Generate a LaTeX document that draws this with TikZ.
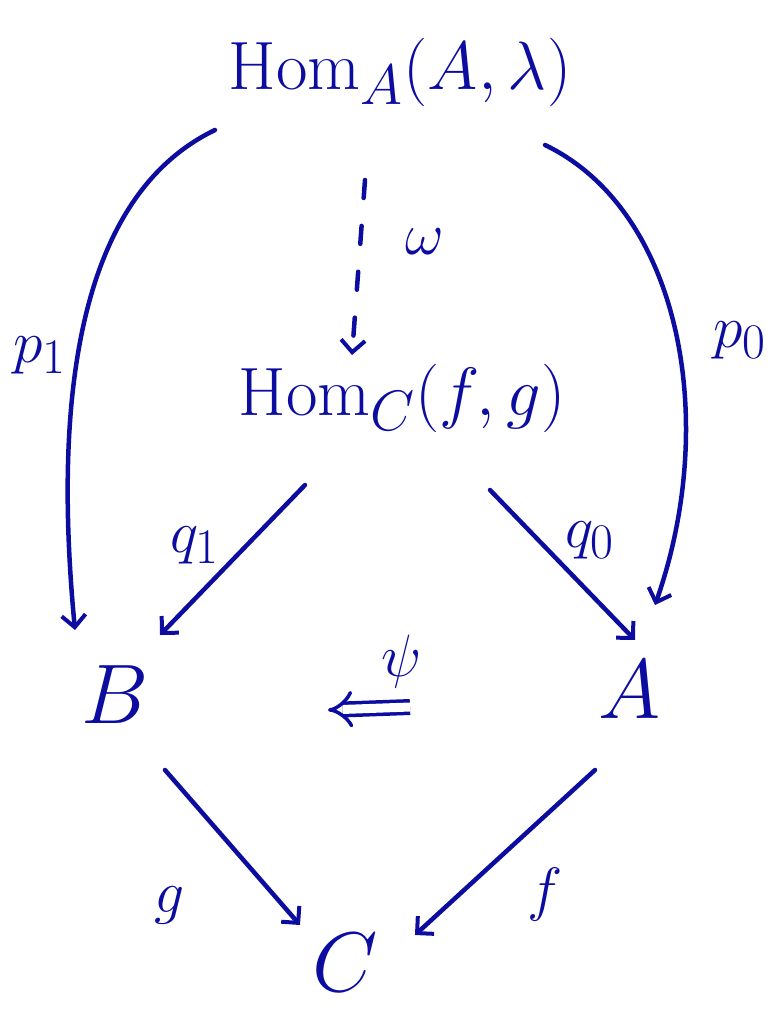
\documentclass[tikz,border=0pt]{standalone}
\usetikzlibrary{arrows.meta}
\definecolor{ink}{RGB}{12,12,160}
\begin{document}
\begin{tikzpicture}[x=1pt,y=-1pt,
  every node/.style={text=ink},
  bigobj/.style={font=\Huge,scale=2.75,inner sep=0pt},
  letterobj/.style={font=\Huge,scale=3.4,inner sep=0pt},
  lab/.style={font=\Huge,scale=2.4,inner sep=0pt},
  arr/.style={draw=ink,line width=4.5pt,line cap=round,-{Straight Barb[length=12pt,width=24pt,line width=4pt]}},
  dasharr/.style={arr,dash pattern=on 18pt off 28pt}]
\useasboundingbox (0,0) rectangle (771,1017);
\node[bigobj] (top) at (400,72) {$\mathrm{Hom}_A(A,\lambda)$};
\node[bigobj] (mid) at (402,398) {$\mathrm{Hom}_C(f,g)$};
\node[letterobj] (B) at (115,695) {$B$};
\node[letterobj] (A) at (630,690) {$A$};
\node[letterobj] (C) at (345,963) {$C$};
\node[lab] (lp1) at (40,355) {$p_1$};
\node[lab] (lp0) at (740,340) {$p_0$};
\node[lab] (lw) at (425,242) {$\omega$};
\node[lab] (lq1) at (195,545) {$q_1$};
\node[lab] (lq0) at (590,540) {$q_0$};
\node[lab] (lg) at (170,905) {$g$};
\node[lab] (lf) at (545,895) {$f$};
\node[lab] (lpsi) at (402,662) {$\psi$};
% curved arrows
\draw[arr] ([shift={(-185,58)}]top.center) .. controls (70,200) and (55,420) .. ([shift={(-40,-65)}]B.center);
\draw[arr] ([shift={(145,73)}]top.center) .. controls (680,210) and (720,420) .. ([shift={(25,-85)}]A.center);
% dashed
\draw[dasharr] ([shift={(-35,108)}]top.center) -- ([shift={(-50,-43)}]mid.center);
% straight
\draw[arr] ([shift={(-97,87)}]mid.center) -- ([shift={(45,-60)}]B.center);
\draw[arr] ([shift={(88,92)}]mid.center) -- ([shift={(5,-50)}]A.center);
\draw[arr] ([shift={(50,75)}]B.center) -- ([shift={(-45,-38)}]C.center);
\draw[arr] ([shift={(-35,80)}]A.center) -- ([shift={(70,-28)}]C.center);
% 2-cell
\draw[draw=ink,line width=3.5pt,double=white,double distance=9pt,-{Implies}] ([shift={(8,45)}]lpsi.center) -- ([shift={(-74,48)}]lpsi.center);
\end{tikzpicture}
\end{document}
